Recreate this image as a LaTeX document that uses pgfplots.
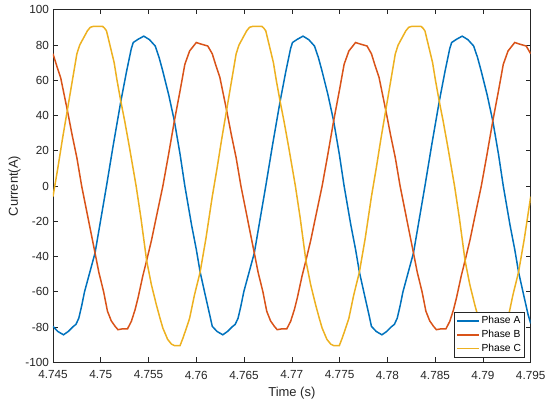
\documentclass[border=0pt]{standalone}
\usepackage{fontspec}
\setmainfont{Liberation Sans}
\usepackage{pgfplots}
\pgfplotsset{compat=1.18}
\definecolor{mlblue}{HTML}{0072BD}
\definecolor{mlred}{HTML}{D95319}
\definecolor{mlyellow}{HTML}{EDB120}
\definecolor{mlaxis}{HTML}{262626}

\begin{document}
\begin{tikzpicture}
\begin{axis}[
    at={(0bp,0bp)}, anchor=south west,
    width=477.7bp, height=352.6bp, scale only axis,
    xmin=4.745, xmax=4.795, ymin=-100, ymax=100,
    xtick={4.745,4.75,4.755,4.76,4.765,4.77,4.775,4.78,4.785,4.79,4.795},
    xticklabels={4.745,4.75,4.755,4.76,4.765,4.77,4.775,4.78,4.785,4.79,4.795},
    ytick={-100,-80,-60,-40,-20,0,20,40,60,80,100},
    tick align=inside, xtick pos=both, ytick pos=both,
    major tick length=4.8bp,
    axis line style={mlaxis, line width=0.6bp},
    tick style={mlaxis, line width=0.6bp},
    /pgf/number format/assume math mode=true,
    tick label style={font=\fontsize{11.8}{13}\selectfont, color=mlaxis},
    xticklabel style={yshift=-5bp},
    yticklabel style={xshift=-0.5bp},
    xlabel={Time (s)}, ylabel={Current(A)},
    label style={font=\fontsize{13}{15}\selectfont, color=mlaxis},
    xlabel style={at={(axis description cs:0.5,-0.087)}, anchor=center},
    ylabel style={at={(axis description cs:-0.0805,0.5)}, anchor=center, rotate=0},
    legend style={at={(axis description cs:0.9874,0.0142)}, anchor=south east,
        draw=mlaxis, line width=0.5bp, fill=white,
        font=\fontsize{10.3}{12}\selectfont,
        inner xsep=2bp, inner ysep=1.5bp, row sep=0pt,
        nodes={inner sep=1.5bp, text height=8bp, text depth=2.8bp}},
    legend cell align=left,
    legend image code/.code={\draw[#1] (0bp,0bp) -- (22bp,0bp);},
    every axis plot/.append style={line width=1.5bp},
]
% Phase A
\addplot[mlblue] coordinates {
(4.74500,-79.6) (4.74550,-82.5) (4.74610,-84.4) (4.74660,-82.5) (4.74710,-79.8)
(4.74740,-78.5) (4.74770,-75.0) (4.74800,-68.0) (4.74830,-60.0) (4.74890,-48.0)
(4.74940,-38.0) (4.75000,-19.0) (4.75060,0.0) (4.75130,23.0) (4.75210,48.0)
(4.75270,65.0) (4.75320,78.0) (4.75340,81.4) (4.75390,83.2) (4.75450,85.0)
(4.75510,83.0) (4.75570,79.4) (4.75610,73.0) (4.75650,65.0) (4.75710,52.0)
(4.75770,37.0) (4.75830,18.0) (4.75880,0.0) (4.75950,-22.0) (4.76000,-36.0)
(4.76040,-48.8) (4.76090,-61.0) (4.76140,-73.0)
(4.76167,-79.6) (4.76217,-82.5) (4.76277,-84.4) (4.76327,-82.5) (4.76377,-79.8)
(4.76407,-78.5) (4.76437,-75.0) (4.76467,-68.0) (4.76497,-60.0) (4.76557,-48.0)
(4.76607,-38.0) (4.76667,-19.0) (4.76727,0.0) (4.76797,23.0) (4.76877,48.0)
(4.76937,65.0) (4.76987,78.0) (4.77007,81.4) (4.77057,83.2) (4.77117,85.0)
(4.77177,83.0) (4.77237,79.4) (4.77277,73.0) (4.77317,65.0) (4.77377,52.0)
(4.77437,37.0) (4.77497,18.0) (4.77547,0.0) (4.77617,-22.0) (4.77667,-36.0)
(4.77707,-48.8) (4.77757,-61.0) (4.77807,-73.0)
(4.77833,-79.6) (4.77883,-82.5) (4.77943,-84.4) (4.77993,-82.5) (4.78043,-79.8)
(4.78073,-78.5) (4.78103,-75.0) (4.78133,-68.0) (4.78163,-60.0) (4.78223,-48.0)
(4.78273,-38.0) (4.78333,-19.0) (4.78393,0.0) (4.78463,23.0) (4.78543,48.0)
(4.78603,65.0) (4.78653,78.0) (4.78673,81.4) (4.78723,83.2) (4.78783,85.0)
(4.78843,83.0) (4.78903,79.4) (4.78943,73.0) (4.78983,65.0) (4.79043,52.0)
(4.79103,37.0) (4.79163,18.0) (4.79213,0.0) (4.79283,-22.0) (4.79333,-36.0)
(4.79373,-48.8) (4.79423,-61.0) (4.79473,-73.0) (4.79500,-78.0)
};
\addlegendentry{Phase A}
% Phase B
\addplot[mlred] coordinates {
(4.74500,75.0) (4.74540,68.0) (4.74580,61.5) (4.74650,43.0) (4.74700,29.0)
(4.74750,16.0) (4.74800,0.0) (4.74870,-19.0) (4.74940,-38.0) (4.74980,-49.0)
(4.75030,-60.0) (4.75070,-71.0) (4.75110,-76.5) (4.75150,-79.6) (4.75180,-81.5)
(4.75230,-81.0) (4.75280,-81.0) (4.75320,-76.8) (4.75360,-70.0) (4.75390,-63.5)
(4.75440,-51.0) (4.75480,-42.3) (4.75530,-31.0) (4.75580,-18.0) (4.75650,0.0)
(4.75710,18.0) (4.75770,36.8) (4.75830,54.0) (4.75880,69.0) (4.75930,76.6)
(4.76000,81.4) (4.76050,80.5) (4.76120,79.4)
(4.76167,75.0) (4.76207,68.0) (4.76247,61.5) (4.76317,43.0) (4.76367,29.0)
(4.76417,16.0) (4.76467,0.0) (4.76537,-19.0) (4.76607,-38.0) (4.76647,-49.0)
(4.76697,-60.0) (4.76737,-71.0) (4.76777,-76.5) (4.76817,-79.6) (4.76847,-81.5)
(4.76897,-81.0) (4.76947,-81.0) (4.76987,-76.8) (4.77027,-70.0) (4.77057,-63.5)
(4.77107,-51.0) (4.77147,-42.3) (4.77197,-31.0) (4.77247,-18.0) (4.77317,0.0)
(4.77377,18.0) (4.77437,36.8) (4.77497,54.0) (4.77547,69.0) (4.77597,76.6)
(4.77667,81.4) (4.77717,80.5) (4.77787,79.4)
(4.77833,75.0) (4.77873,68.0) (4.77913,61.5) (4.77983,43.0) (4.78033,29.0)
(4.78083,16.0) (4.78133,0.0) (4.78203,-19.0) (4.78273,-38.0) (4.78313,-49.0)
(4.78363,-60.0) (4.78403,-71.0) (4.78443,-76.5) (4.78483,-79.6) (4.78513,-81.5)
(4.78563,-81.0) (4.78613,-81.0) (4.78653,-76.8) (4.78693,-70.0) (4.78723,-63.5)
(4.78773,-51.0) (4.78813,-42.3) (4.78863,-31.0) (4.78913,-18.0) (4.78983,0.0)
(4.79043,18.0) (4.79103,36.8) (4.79163,54.0) (4.79213,69.0) (4.79263,76.6)
(4.79333,81.4) (4.79383,80.5) (4.79453,79.4) (4.79500,75.0)
};
\addlegendentry{Phase B}
% Phase C
\addplot[mlyellow] coordinates {
(4.74500,-6.0) (4.74550,10.0) (4.74600,27.0) (4.74650,43.0) (4.74700,59.0)
(4.74750,75.0) (4.74780,80.0) (4.74820,84.0) (4.74860,88.0) (4.74890,90.0)
(4.74920,90.5) (4.74970,90.5) (4.75020,90.5) (4.75040,89.5) (4.75060,88.0)
(4.75100,79.0) (4.75140,70.0) (4.75170,60.0) (4.75210,48.0) (4.75250,37.0)
(4.75300,22.0) (4.75370,0.0) (4.75420,-18.0) (4.75480,-42.3) (4.75530,-56.0)
(4.75580,-67.0) (4.75620,-75.0) (4.75650,-80.6) (4.75700,-87.0) (4.75740,-89.7)
(4.75770,-90.5) (4.75830,-90.5) (4.75860,-86.3) (4.75900,-80.0) (4.75930,-75.0)
(4.75980,-62.0) (4.76040,-48.8) (4.76100,-30.0)
(4.76167,-6.0) (4.76217,10.0) (4.76267,27.0) (4.76317,43.0) (4.76367,59.0)
(4.76417,75.0) (4.76447,80.0) (4.76487,84.0) (4.76527,88.0) (4.76557,90.0)
(4.76587,90.5) (4.76637,90.5) (4.76687,90.5) (4.76707,89.5) (4.76727,88.0)
(4.76767,79.0) (4.76807,70.0) (4.76837,60.0) (4.76877,48.0) (4.76917,37.0)
(4.76967,22.0) (4.77037,0.0) (4.77087,-18.0) (4.77147,-42.3) (4.77197,-56.0)
(4.77247,-67.0) (4.77287,-75.0) (4.77317,-80.6) (4.77367,-87.0) (4.77407,-89.7)
(4.77437,-90.5) (4.77497,-90.5) (4.77527,-86.3) (4.77567,-80.0) (4.77597,-75.0)
(4.77647,-62.0) (4.77707,-48.8) (4.77767,-30.0)
(4.77833,-6.0) (4.77883,10.0) (4.77933,27.0) (4.77983,43.0) (4.78033,59.0)
(4.78083,75.0) (4.78113,80.0) (4.78153,84.0) (4.78193,88.0) (4.78223,90.0)
(4.78253,90.5) (4.78303,90.5) (4.78353,90.5) (4.78373,89.5) (4.78393,88.0)
(4.78433,79.0) (4.78473,70.0) (4.78503,60.0) (4.78543,48.0) (4.78583,37.0)
(4.78633,22.0) (4.78703,0.0) (4.78753,-18.0) (4.78813,-42.3) (4.78863,-56.0)
(4.78913,-67.0) (4.78953,-75.0) (4.78983,-80.6) (4.79033,-87.0) (4.79073,-89.7)
(4.79103,-90.5) (4.79163,-90.5) (4.79193,-86.3) (4.79233,-80.0) (4.79263,-75.0)
(4.79313,-62.0) (4.79373,-48.8) (4.79433,-30.0) (4.79500,-6.0)
};
\addlegendentry{Phase C}
\end{axis}
\pgfresetboundingbox
\useasboundingbox (-53bp,-43.7bp) rectangle (497bp,362.3bp);
\end{tikzpicture}
\end{document}
